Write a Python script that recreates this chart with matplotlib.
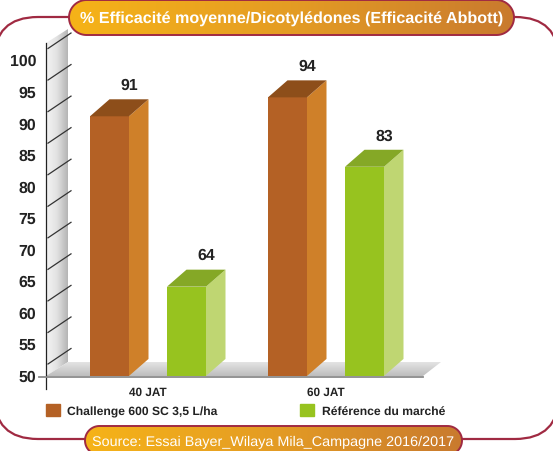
import numpy as np
import matplotlib
matplotlib.use("Agg")
import matplotlib.pyplot as plt
from matplotlib.colors import LinearSegmentedColormap
from matplotlib.patches import FancyBboxPatch, Polygon, Patch

plt.rcParams['font.family'] = ['Liberation Sans', 'DejaVu Sans']
plt.rcParams['text.hinting'] = 'no_hinting'
plt.rcParams['text.hinting_factor'] = 8

groups = ["40 JAT", "60 JAT"]
challengeValues = [91, 94]
referenceValues = [64, 83]
seriesNames = ["Challenge 600 SC 3,5 L/ha", "Référence du marché"]
yTicks = [50, 55, 60, 65, 70, 75, 80, 85, 90, 95, 100]
titleText = "% Efficacité moyenne/Dicotylédones (Efficacité Abbott)"
sourceText = "Source: Essai Bayer_Wilaya Mila_Campagne 2016/2017"

W, H = 553, 452
FRAME = "#a02a42"
INK = "#222222"
ORANGE = ("#b46125", "#cf8029", "#8d4e1a")
GREEN = ("#97c31f", "#bfd672", "#85a826")
PILL = LinearSegmentedColormap.from_list("pill", ["#f6b318", "#e49c24", "#c97a2e"])
WALL = LinearSegmentedColormap.from_list("wall", ["#f4f4f4", "#e2e2e2", "#b4b4b4"])
FLOOR = LinearSegmentedColormap.from_list("floor", ["#e4e4e4", "#bdbdbd"])

# pixel scale of the data axes
PX_X = 178.0
PX_Y = 6.31
X0, Y0 = 148.0, 376.0


def gradient(ax, box, clip, cmap, vertical=False):
    grad = np.linspace(0, 1, 256).reshape(1, -1)
    if vertical:
        grad = grad.T
    im = ax.imshow(grad, extent=box, cmap=cmap, aspect="auto", zorder=clip.get_zorder())
    im.set_clip_path(clip)


def pill(ax, x0, y0, x1, y1, text, size, bold):
    r = (y1 - y0) / 2.0
    cy = (y0 + y1) / 2.0
    t = np.linspace(-np.pi / 2, np.pi / 2, 40)
    rightEnd = np.column_stack([x1 - r + r * np.cos(t), cy + r * np.sin(t)])
    leftEnd = np.column_stack([x0 + r - r * np.cos(t[::-1]), cy + r * np.sin(t[::-1])])
    outline = np.vstack([rightEnd, leftEnd])
    shape = Polygon(outline, closed=True, facecolor="none", edgecolor="none", zorder=3)
    ax.add_patch(shape)
    gradient(ax, (x0, x1, min(y1, H), y0), shape, PILL)
    ax.add_patch(Polygon(outline, closed=True, facecolor="none", edgecolor=FRAME, linewidth=1.4, zorder=4))
    ax.text((x0 + x1) / 2.0, cy + 0.5, text, color="white", fontsize=size, ha="center", va="center",
            fontweight="bold" if bold else "normal", zorder=5)


def bar3d(ax, x, value, colors):
    front, side, top = colors
    w = 39.0 / PX_X
    dx = 19.5 / PX_X
    dy = 17.0 / PX_Y
    base = 49.85
    ax.bar(x, value - base, w, bottom=base, color=front, zorder=3)
    left, right = x - w / 2, x + w / 2
    ax.add_patch(Polygon([(right, base), (right + dx, base + dy), (right + dx, value + dy), (right, value)],
                         facecolor=side, edgecolor="none", zorder=3))
    ax.add_patch(Polygon([(left, value), (right, value), (right + dx, value + dy), (left + dx, value + dy)],
                         facecolor=top, edgecolor="none", zorder=3))
    ax.text(x + dx, value + 31.5 / PX_Y, str(value), fontsize=11.4, fontweight="bold", color=INK,
            ha="center", va="center", zorder=4)


fig = plt.figure(figsize=(W / 100.0, H / 100.0), dpi=100, facecolor="white")

# back layer: frame, wall and floor in pixels
back = fig.add_axes([0, 0, 1, 1], zorder=0)
back.set_xlim(0, W)
back.set_ylim(H, 0)
back.axis("off")
back.add_patch(FancyBboxPatch((-6 + 44, 18 + 44), W + 12 - 88, 422 - 88, boxstyle="round,pad=44,rounding_size=44",
                              facecolor="white", edgecolor=FRAME, linewidth=1.6))
wall = Polygon([(46, 377), (46, 44), (68, 30), (68, 363)], facecolor="none", edgecolor="none", zorder=1)
back.add_patch(wall)
gradient(back, (46, 68, 377, 30), wall, WALL)
floor = Polygon([(46, 377), (68, 363), (441, 363), (423, 377)], facecolor="none", edgecolor="none", zorder=1)
back.add_patch(floor)
gradient(back, (46, 441, 377, 363), floor, FLOOR, vertical=True)
back.set_xlim(0, W)
back.set_ylim(H, 0)

# data layer
ax = fig.add_axes([0, 0, 1, 1], zorder=1)
ax.patch.set_alpha(0)
ax.set_xlim(-X0 / PX_X, (W - X0) / PX_X)
ax.set_ylim(50 - (H - Y0) / PX_Y, 50 + Y0 / PX_Y)

positions = np.arange(len(groups))
offset = 38.5 / PX_X
for i in positions:
    bar3d(ax, i - offset, challengeValues[i], ORANGE)
    bar3d(ax, i + offset, referenceValues[i], GREEN)

# slanted gridlines on the side wall
for v in yTicks:
    ax.plot([(48 - X0) / PX_X, (71 - X0) / PX_X], [v + 11 / PX_Y, v + 26.5 / PX_Y], color="#333333", lw=0.9, zorder=2)

for s in ["top", "right"]:
    ax.spines[s].set_visible(False)
ax.spines["left"].set_position(("data", (46 - X0) / PX_X))
ax.spines["left"].set_bounds(50 - 14 / PX_Y, 50 + 332 / PX_Y)
ax.spines["left"].set_color("#222222")
ax.spines["left"].set_linewidth(0.9)
ax.spines["bottom"].set_position(("data", 50 - 1.5 / PX_Y))
ax.spines["bottom"].set_bounds((39 - X0) / PX_X, (423 - X0) / PX_X)
ax.spines["bottom"].set_color("#8a8a8a")
ax.spines["bottom"].set_linewidth(1.3)
ax.spines["bottom"].set_zorder(4)

ax.set_yticks(yTicks)
ax.set_yticklabels([str(v) for v in yTicks], fontsize=11.4, fontweight="bold", color=INK)
for label in ax.get_yticklabels():
    label.set_verticalalignment("center_baseline")
ax.tick_params(axis="y", length=0, pad=7)
ax.set_xticks(positions)
ax.set_xticklabels(groups, fontsize=8.5, fontweight="bold", color=INK)
ax.tick_params(axis="x", length=0, pad=7)

legend = ax.legend(handles=[Patch(color=ORANGE[0], label=seriesNames[0]), Patch(color=GREEN[0], label=seriesNames[1])],
                   ncol=2, frameon=False, loc="upper left", bbox_to_anchor=(46.0 / W, 1 - 405.0 / H),
                   handlelength=1.16, handleheight=1.16, handletextpad=0.6, columnspacing=6.85,
                   borderpad=0, borderaxespad=0, labelcolor=INK, prop={"weight": "bold", "size": 8.7})

# top layer: title and source pills
front = fig.add_axes([0, 0, 1, 1], zorder=2)
front.set_xlim(0, W)
front.set_ylim(H, 0)
front.axis("off")
pill(front, 69, 1, 514, 36, titleText, 11.65, True)
pill(front, 85, 427, 462, 456, sourceText, 10.4, False)
front.set_xlim(0, W)
front.set_ylim(H, 0)

fig.savefig("out.png", dpi=100)
